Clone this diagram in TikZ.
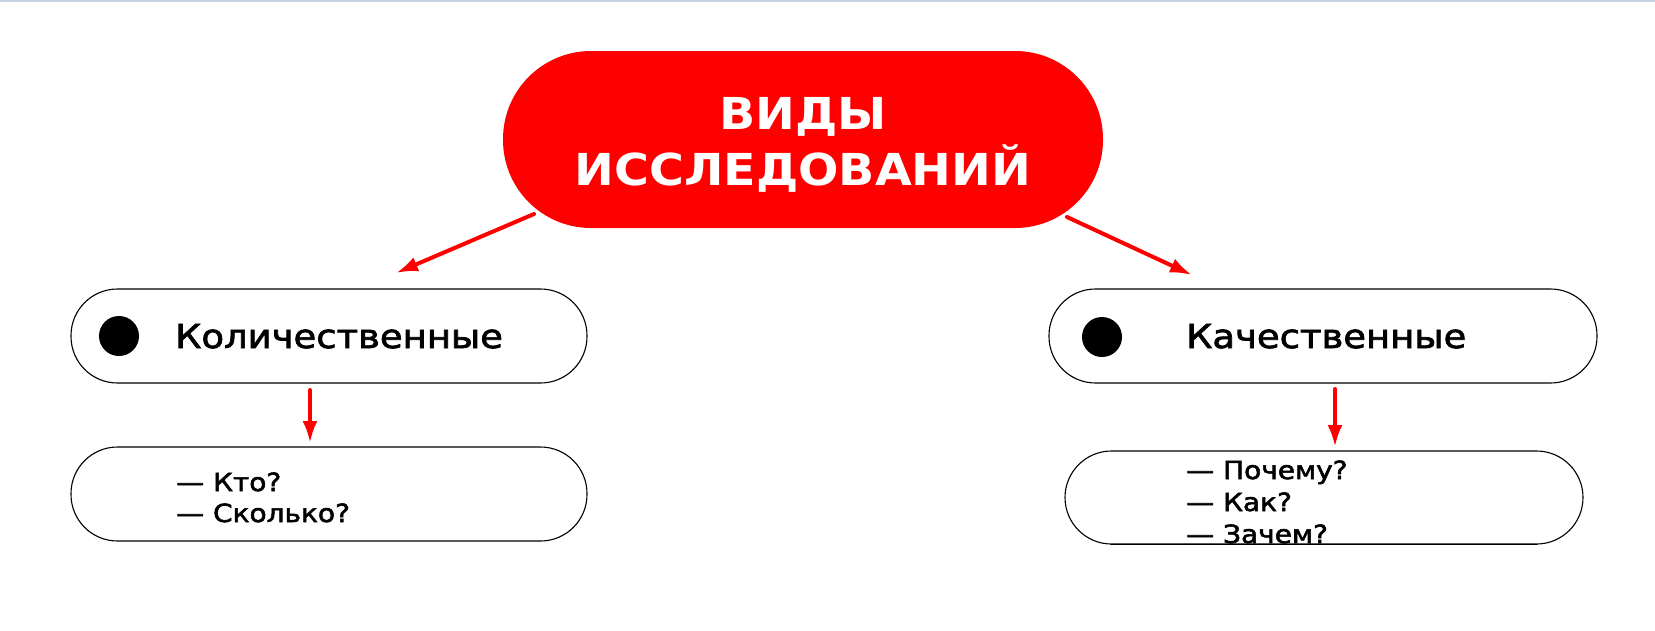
\documentclass[tikz,border=0pt]{standalone}
\usepackage{fontspec}
\setmainfont{DejaVu Sans}
\newfontfamily\itemfont[FakeStretch=1.12,FakeBold=2.2]{DejaVu Sans}
\newfontfamily\titlefont[FakeStretch=1.08]{DejaVu Sans}
\usetikzlibrary{arrows.meta}
\definecolor{accent}{HTML}{FF0000}
\definecolor{topline}{HTML}{C5D0E2}
\tikzset{
  pillbox/.style={fill=accent, rectangle, rounded corners=88pt, minimum width=600pt, minimum height=177pt, inner sep=0pt},
  catbox/.style={draw=black, line width=1.1pt, fill=white, rectangle, rounded corners=46.5pt, minimum height=94pt, inner sep=0pt},
  bulletdot/.style={circle, fill=black, minimum size=40pt, inner sep=0pt},
  titletext/.style={anchor=base, inner sep=0pt, text=white, font=\titlefont\bfseries\fontsize{44}{52}\selectfont},
  cattext/.style={anchor=base west, inner sep=0pt, font=\itemfont\fontsize{33}{40}\selectfont},
  listtext/.style={anchor=base west, inner sep=0pt, font=\itemfont\fontsize{25}{30}\selectfont},
  redarrow/.style={draw=accent, line width=4pt, line cap=round, -{Latex[length=22pt,width=15pt]}}
}
\begin{document}
\begin{tikzpicture}[x=1pt,y=-1pt]
\useasboundingbox (0,0) rectangle (1655,630);
\fill[topline] (0,0) rectangle (1655,1.8);

% main pill
\node[pillbox] (pill) at (803,139.5) {};
\node[titletext] (t1) at (803,129) {ВИДЫ};
\node[titletext] (t2) at (803,185) {ИССЛЕДОВАНИЙ};

% category boxes
\node[catbox, minimum width=516pt] (kolbox) at (329,336) {};
\node[catbox, minimum width=548pt] (kachbox) at (1323,336) {};
\node[bulletdot] (dot1) at (119,336) {};
\node[bulletdot] (dot2) at (1102,337) {};
\node[cattext] (kol) at (175,348) {Количественные};
\node[cattext] (kach) at (1186,348) {Качественные};

% list boxes
\node[catbox, minimum width=516pt] (kollist) at (329,494) {};
\node[catbox, minimum width=518pt, minimum height=93pt] (kachlist) at (1324,497.5) {};
\node[listtext] (l1) at (176,491) {— Кто?};
\node[listtext] (l2) at (176,522) {— Сколько?};
\node[listtext] (r1) at (1186,479) {— Почему?};
\node[listtext] (r2) at (1186,511) {— Как?};
\node[listtext] (r3) at (1186,543) {— Зачем?};
\draw[black, line width=1.1pt] (kachlist.south west) ++(46,0) -- ([xshift=-46pt]kachlist.south east);

% arrows
\coordinate (a1s) at (534,214);
\coordinate (a1e) at (396,273);
\coordinate (a2s) at (1067,217);
\coordinate (a2e) at (1192,275);
\coordinate (d1s) at (310,390);
\coordinate (d1e) at (310,443);
\coordinate (d2s) at (1335,389);
\coordinate (d2e) at (1335,447);
\draw[redarrow] (a1s) -- (a1e);
\draw[redarrow] (a2s) -- (a2e);
\draw[redarrow] (d1s) -- (d1e);
\draw[redarrow] (d2s) -- (d2e);
\end{tikzpicture}
\end{document}
